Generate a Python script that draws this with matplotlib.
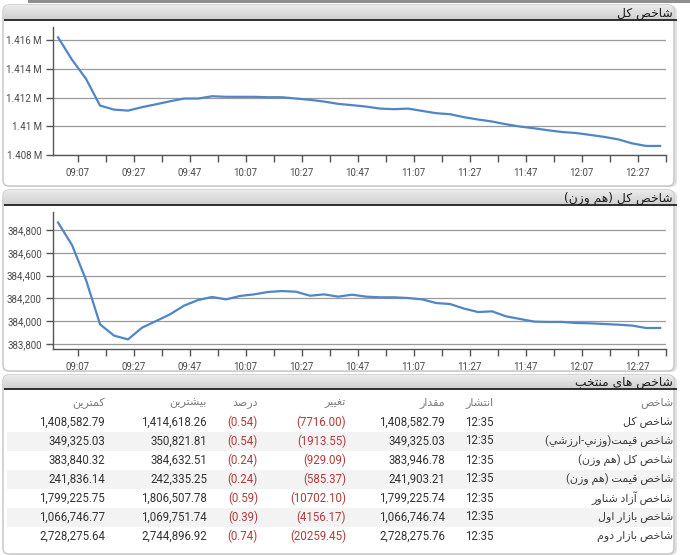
import matplotlib
matplotlib.use("Agg")
import matplotlib.pyplot as plt
from matplotlib.patches import FancyBboxPatch, Rectangle
from matplotlib.ticker import FuncFormatter, MultipleLocator
import numpy as np

plt.rcParams['font.family'] = ['Roboto', 'DejaVu Sans']

# intraday readings, every 5 minutes
times = ["09:00", "09:05", "09:10", "09:15", "09:20", "09:25", "09:30", "09:35", "09:40", "09:45", "09:50", "09:55",
         "10:00", "10:05", "10:10", "10:15", "10:20", "10:25", "10:30", "10:35", "10:40", "10:45", "10:50", "10:55",
         "11:00", "11:05", "11:10", "11:15", "11:20", "11:25", "11:30", "11:35", "11:40", "11:45", "11:50", "11:55",
         "12:00", "12:05", "12:10", "12:15", "12:20", "12:25", "12:30", "12:35"]

total_index = [1416190, 1414630, 1413300, 1411440, 1411160, 1411090, 1411330, 1411530, 1411740, 1411930, 1411930, 1412090,
               1412050, 1412050, 1412050, 1412020, 1412020, 1411930, 1411840, 1411720, 1411560, 1411470, 1411370, 1411230,
               1411190, 1411230, 1411070, 1410910, 1410840, 1410630, 1410470, 1410330, 1410140, 1409980, 1409860, 1409720,
               1409600, 1409530, 1409400, 1409260, 1409090, 1408810, 1408630, 1408630]

equal_weight_index = [384866, 384667, 384361, 383972, 383873, 383840, 383943, 384001, 384060, 384136, 384185, 384212,
                      384191, 384221, 384235, 384256, 384264, 384258, 384223, 384235, 384215, 384232, 384215, 384209,
                      384209, 384203, 384191, 384159, 384150, 384110, 384080, 384086, 384042, 384019, 383996, 383993,
                      383993, 383984, 383981, 383975, 383969, 383961, 383940, 383940]

# table of selected indices
row_names = ["شاخص کل", "شاخص قیمت(وزني-ارزشي)", "شاخص کل (هم وزن)", "شاخص قیمت (هم وزن)",
             "شاخص آزاد شناور", "شاخص بازار اول", "شاخص بازار دوم"]
published = ["12:35", "12:35", "12:35", "12:35", "12:35", "12:35", "12:35"]
values = [1408582.79, 349325.03, 383946.78, 241903.21, 1799225.74, 1066746.74, 2728275.76]
changes = [-7716.00, -1913.55, -929.09, -585.37, -10702.10, -4156.17, -20259.45]
percents = [-0.54, -0.54, -0.24, -0.24, -0.59, -0.39, -0.74]
highs = [1414618.26, 350821.81, 384632.51, 242335.25, 1806507.78, 1069751.74, 2744896.92]
lows = [1408582.79, 349325.03, 383840.32, 241836.14, 1799225.75, 1066746.77, 2728275.64]
headers = ["شاخص", "انتشار", "مقدار", "تغییر", "درصد", "بیشترین", "کمترین"]

panel_titles = ["شاخص کل", "شاخص کل (هم وزن)", "شاخص های منتخب"]

# --- minimal arabic/persian shaping (no reshaper lib available) ---
FORMS = {
    'ا': ('\uFE8D', '\uFE8E', None, None),
    'آ': ('\uFE81', '\uFE82', None, None),
    'ب': ('\uFE8F', '\uFE90', '\uFE91', '\uFE92'),
    'ت': ('\uFE95', '\uFE96', '\uFE97', '\uFE98'),
    'خ': ('\uFEA5', '\uFEA6', '\uFEA7', '\uFEA8'),
    'د': ('\uFEA9', '\uFEAA', None, None),
    'ر': ('\uFEAD', '\uFEAE', None, None),
    'ز': ('\uFEAF', '\uFEB0', None, None),
    'ش': ('\uFEB5', '\uFEB6', '\uFEB7', '\uFEB8'),
    'ص': ('\uFEB9', '\uFEBA', '\uFEBB', '\uFEBC'),
    'غ': ('\uFECD', '\uFECE', '\uFECF', '\uFED0'),
    'ق': ('\uFED5', '\uFED6', '\uFED7', '\uFED8'),
    'ک': ('\uFB8E', '\uFB8F', '\uFB90', '\uFB91'),
    'ل': ('\uFEDD', '\uFEDE', '\uFEDF', '\uFEE0'),
    'م': ('\uFEE1', '\uFEE2', '\uFEE3', '\uFEE4'),
    'ن': ('\uFEE5', '\uFEE6', '\uFEE7', '\uFEE8'),
    'ه': ('\uFEE9', '\uFEEA', '\uFEEB', '\uFEEC'),
    'و': ('\uFEED', '\uFEEE', None, None),
    'ی': ('\uFBFC', '\uFBFD', '\uFBFE', '\uFBFF'),
    'ي': ('\uFEF1', '\uFEF2', '\uFEF3', '\uFEF4'),
}
RIGHT_ONLY = set('اآدرزو')


def shape(text):
    out = []
    for i, c in enumerate(text):
        if c not in FORMS:
            out.append(c)
            continue
        prev = text[i - 1] if i > 0 else ''
        nxt = text[i + 1] if i + 1 < len(text) else ''
        join_prev = prev in FORMS and prev not in RIGHT_ONLY
        join_next = c not in RIGHT_ONLY and nxt in FORMS
        iso, fin, ini, med = FORMS[c]
        if join_prev and join_next:
            out.append(med)
        elif join_prev:
            out.append(fin)
        elif join_next:
            out.append(ini)
        else:
            out.append(iso)
    vis = ''.join(reversed(out))
    return vis.translate(str.maketrans('()', ')('))


W, H = 690, 555
fig = plt.figure(figsize=(W / 100, H / 100), dpi=100)
fig.patch.set_facecolor('white')

bg = fig.add_axes([0, 0, 1, 1])
bg.set_xlim(0, W)
bg.set_ylim(H, 0)
bg.axis('off')

# remnant of the page above
bg.add_patch(Rectangle((28, 0), W - 28, 3, color='#8f8f8f', lw=0))

panels = [(3, 5, 186, 20), (3, 190, 371, 205), (3, 375, 554, 389)]
grad = np.linspace(0, 1, 32).reshape(-1, 1)
hcmap = matplotlib.colors.LinearSegmentedColormap.from_list('h', ['#ebebeb', '#cfcfcf'])
for (x0, y0, y1, yl), title in zip(panels, panel_titles):
    # soft shadow on the right
    bg.add_patch(FancyBboxPatch((x0 + 3, y0 + 1), 674 - x0, y1 - y0, boxstyle="round,pad=0,rounding_size=6",
                                fc='#e2e2e2', ec='none', zorder=1))
    box = FancyBboxPatch((x0, y0), 674 - x0, y1 - y0, boxstyle="round,pad=0,rounding_size=6",
                         fc='white', ec='#c4c4c4', lw=1.0, zorder=2)
    bg.add_patch(box)
    im = bg.imshow(grad, cmap=hcmap, extent=(x0, 677, yl, y0), aspect='auto', zorder=3)
    im.set_clip_path(box)
    bg.plot([x0 + 0.5, 676.5], [yl, yl], color='#2e2e2e', lw=1.4, zorder=4, solid_capstyle='butt')
    bg.text(673, (y0 + yl) / 2 + 0.5, shape(title), ha='right', va='center', fontsize=8.8,
            color='#1a1a1a', family=['DejaVu Sans'], zorder=5)

minutes = [int(t[:2]) * 60 + int(t[3:]) for t in times]


def hhmm(v, pos=None):
    v = int(round(v))
    return f"{v // 60:02d}:{v % 60:02d}"


def style_chart(ax, ylo, yhi, ystep, fmt):
    ax.set_xlim(538.2, 757.1)
    ax.set_ylim(ylo, yhi)
    for s in ['top', 'right']:
        ax.spines[s].set_visible(False)
    for s in ['left', 'bottom']:
        ax.spines[s].set_color('#555555')
        ax.spines[s].set_linewidth(1.0)
    ax.xaxis.set_major_locator(MultipleLocator(20, offset=7))
    ax.xaxis.set_minor_locator(MultipleLocator(10, offset=7))
    ax.xaxis.set_major_formatter(FuncFormatter(hhmm))
    ax.yaxis.set_major_locator(MultipleLocator(ystep))
    ax.yaxis.set_major_formatter(FuncFormatter(fmt))
    ax.tick_params(axis='both', which='both', direction='out', length=5, width=1, color='#555555',
                   labelsize=7.0, labelcolor='#4a4a4a')
    ax.tick_params(axis='x', pad=4)
    ax.tick_params(axis='y', pad=3)
    ax.grid(axis='y', color='#9a9a9a', lw=0.9)
    ax.set_axisbelow(True)


def px_axes(left, top, right, bottom):
    return fig.add_axes([left / W, (H - bottom) / H, (right - left) / W, (bottom - top) / H])


ax1 = px_axes(53, 27, 666, 155)
ax1.plot(minutes, total_index, color='#4f86c6', lw=1.6)
style_chart(ax1, 1408000, 1416910, 2000, lambda v, p: f"{v / 1e6:g} M")

ax2 = px_axes(53, 212.3, 666, 349.3)
ax2.plot(minutes, equal_weight_index, color='#4f86c6', lw=1.6)
style_chart(ax2, 383753, 384955, 200, lambda v, p: f"{v:,.0f}")

# table
col_x = [673, 494, 445, 346, 258, 207, 105]
head_y = 403
row_y0, row_dy = 422, 19.0
for i in range(len(row_names)):
    yy = row_y0 + i * row_dy
    if i % 2 == 1:
        bg.add_patch(Rectangle((7, yy - 9.5), 664, 19, color='#f3f3f3', lw=0, zorder=3))

for x, h in zip(col_x, headers):
    bg.text(x, head_y, shape(h), ha='right', va='center', fontsize=8.0, color='#7a7a7a', zorder=5)

red = '#b23b3b'
dark = '#333333'
for i in range(len(row_names)):
    yy = row_y0 + i * row_dy
    bg.text(col_x[0], yy, shape(row_names[i]), ha='right', va='center', fontsize=8.0, color='#3c3c3c', zorder=5)
    cells = [
        (published[i], dark),
        (f"{values[i]:,.2f}", dark),
        (f"({abs(changes[i]):.2f})", red),
        (f"({abs(percents[i]):.2f})", red),
        (f"{highs[i]:,.2f}", dark),
        (f"{lows[i]:,.2f}", dark),
    ]
    for x, (txt, c) in zip(col_x[1:], cells):
        bg.text(x, yy, txt, ha='right', va='center', fontsize=8.3, color=c, zorder=5)

fig.savefig('out.png', dpi=100)
